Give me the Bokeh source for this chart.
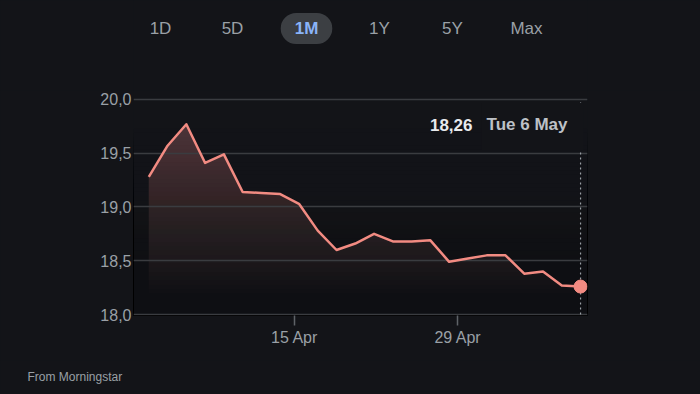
from bokeh.plotting import figure
from bokeh.models import Range1d, FixedTicker, Label, Title
from bokeh.layouts import column
from bokeh.embed import file_html
from bokeh.resources import INLINE
import numpy as np

# ---- data ----
prices = [19.28, 19.57, 19.77, 19.41, 19.49, 19.14, 19.13, 19.12, 19.03, 18.78,
          18.60, 18.66, 18.75, 18.68, 18.68, 18.69, 18.49, 18.52, 18.55, 18.55,
          18.38, 18.40, 18.27, 18.26]
last_date = "Tue 6 May"
x_tick_pos = [7.77, 16.47]
x_tick_labels = ["15 Apr", "29 Apr"]
y_ticks = [18.0, 18.5, 19.0, 19.5, 20.0]
y_tick_labels = ["18,0", "18,5", "19,0", "19,5", "20,0"]
ranges = ["1D", "5D", "1M", "1Y", "5Y", "Max"]
selected_range = "1M"
source_note = "From Morningstar"

# ---- style ----
BG = "#131418"
LINE = "#f28b82"
FILL_TOP = "#4d3538"
GRID = "#3a3c40"
TXT = "#9aa0a6"
FONT = "Liberation Sans"
W = 700


def chrome_fig(h, y0, y1):
    f = figure(width=W, height=h, output_backend="svg", toolbar_location=None,
               x_range=Range1d(133, 587), y_range=Range1d(y1, y0),
               min_border_left=133, min_border_right=113, min_border_top=0,
               min_border_bottom=0, background_fill_color=BG, border_fill_color=BG,
               outline_line_color=None)
    f.axis.visible = False
    f.grid.visible = False
    return f


# ---- top: range buttons (frame aligned with the chart frame: page x 133..587) ----
top_fig = chrome_fig(90, 0, 90)
btn_x = [160, 232, 306, 379, 452, 526]
for name, bx in zip(ranges, btn_x):
    sel = name == selected_range
    kw = {}
    if sel:
        kw = dict(background_fill_color="#3c3f43", border_radius=16,
                  padding=dict(left=14, right=14, top=6, bottom=6))
    top_fig.add_layout(Label(x=bx, y=28, text=name,
                             text_align="center", text_baseline="middle",
                             text_color="#8ab4f8" if sel else TXT,
                             text_font=FONT, text_font_size="17px",
                             text_font_style="bold" if sel else "normal", **kw))

# ---- main chart ----
idx = np.arange(len(prices))
vals = np.array(prices)

p = figure(width=W, height=270, output_backend="svg", toolbar_location=None,
           x_range=Range1d(-0.815, 23.37), y_range=Range1d(17.9907, 20.0837),
           min_border_left=133, min_border_right=113, min_border_top=0,
           min_border_bottom=45, background_fill_color=BG, border_fill_color=BG,
           outline_line_color=None)
p.xgrid.visible = False
p.ygrid.visible = False

p.varea(x=idx, y1=y_ticks[0] - 0.05, y2=vals, fill_color=FILL_TOP, fill_alpha=1.0)

top = vals.max()
fade_bottom = 18.2
levels = np.linspace(fade_bottom, top, 41)
T = (levels - fade_bottom) / (top - fade_bottom)
alphas = []
for k in range(len(levels)):
    if k == len(levels) - 1:
        alphas.append(0.0)
    elif T[k] <= 0:
        alphas.append(1.0)
    else:
        alphas.append(float(1 - T[k] / T[k + 1]))
p.quad(left=p.x_range.start, right=p.x_range.end, bottom=p.y_range.start,
       top=levels, fill_color=BG, fill_alpha=alphas, line_color=None)

p.hspan(y=y_ticks, line_color=GRID, line_width=1.5)

p.line(idx, vals, line_color=LINE, line_width=2.5, line_join="round")

p.segment(x0=[idx[-1]], y0=[y_ticks[0]], x1=[idx[-1]], y1=[y_ticks[-1]],
          line_color=TXT, line_width=1.2, line_dash="2 3")
p.scatter(x=[idx[-1]], y=[vals[-1]], size=13, fill_color=LINE, line_color=LINE)

p.yaxis.ticker = FixedTicker(ticks=y_ticks)
p.yaxis.major_label_overrides = dict(zip(y_ticks, y_tick_labels))
p.yaxis.axis_line_color = None
p.yaxis.major_tick_line_color = None
p.yaxis.minor_tick_line_color = None
p.yaxis.major_tick_out = 0
p.yaxis.major_tick_in = 0
p.yaxis.major_label_standoff = 2
p.yaxis.major_label_text_color = TXT
p.yaxis.major_label_text_font = FONT
p.yaxis.major_label_text_font_size = "16px"

p.xaxis.ticker = FixedTicker(ticks=x_tick_pos)
p.xaxis.major_label_overrides = dict(zip(x_tick_pos, x_tick_labels))
p.xaxis.axis_line_color = None
p.xaxis.major_tick_line_color = "#5f6368"
p.xaxis.major_tick_line_width = 1.5
p.xaxis.minor_tick_line_color = None
p.xaxis.major_tick_in = 0
p.xaxis.major_tick_out = 10
p.xaxis.major_label_standoff = 3
p.xaxis.major_label_text_color = TXT
p.xaxis.major_label_text_font = FONT
p.xaxis.major_label_text_font_size = "16px"

price_txt = f"{prices[-1]:.2f}".replace(".", ",")
p.add_layout(Label(x=450, y=189, x_units="screen", y_units="screen", text=last_date,
                   text_align="right", text_baseline="middle", text_color="#bdc1c6",
                   text_font=FONT, text_font_size="17px", text_font_style="bold",
                   background_fill_color=BG,
                   padding=dict(left=5, right=16, top=12, bottom=16)))
p.add_layout(Label(x=339, y=191, x_units="screen", y_units="screen", text=price_txt,
                   text_align="right", text_baseline="middle", text_color="#e8eaed",
                   text_font=FONT, text_font_size="17px", text_font_style="bold"))

# ---- bottom strip: source note ----
bot_fig = chrome_fig(34, 360, 394)
bot_fig.add_layout(Title(text=source_note, align="left", offset=-106, standoff=15,
                         text_color=TXT, text_font=FONT, text_font_size="12px",
                         text_font_style="normal"), "above")

layout = column(top_fig, p, bot_fig, spacing=0)

style = "<style>html,body{background:%s;overflow:hidden;}</style>" % BG
open("out.html", "w").write(file_html(layout, INLINE).replace("<head>", "<head>" + style, 1))
